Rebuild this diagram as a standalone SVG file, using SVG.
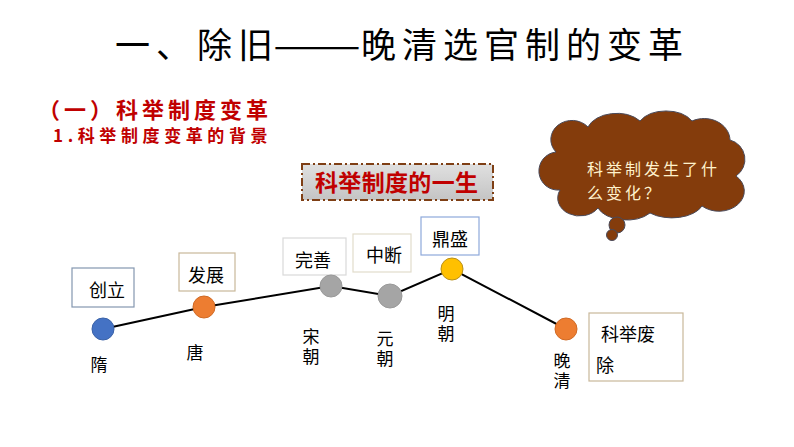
<svg xmlns="http://www.w3.org/2000/svg" width="794" height="447" viewBox="0 0 794 447">
<defs>
<style>
.cjk{font-family:"Noto Sans CJK SC","Noto Sans",sans-serif}
.lbl{font-size:18px;fill:#000}
.dyn{font-size:17px;fill:#000}
.vert{writing-mode:vertical-rl;letter-spacing:3px}
.red{fill:#c00000;font-weight:bold}
.box{fill:#fff;stroke-width:1.2}
.edge{stroke:#000;stroke-width:2;fill:none}
</style>
<linearGradient id="gbox" x1="0" y1="0" x2="0" y2="1">
<stop offset="0" stop-color="#e0e0e0"/>
<stop offset="1" stop-color="#c4c4c4"/>
</linearGradient>
</defs>
<rect width="794" height="447" fill="#fff"/>

<g id="title">
<text class="cjk" y="58" font-size="35" fill="#000" x="115 156 197 238">一、除旧</text>
<text class="cjk" y="58" font-size="35" fill="#000" transform="translate(273,0) scale(1.5,1)">——</text>
<text class="cjk" y="58" font-size="35" fill="#000" x="361 402 443 484 525 566 607 648">晚清选官制的变革</text>
</g>
<g id="heading">
<text class="cjk red" x="38" y="118" font-size="22" letter-spacing="4">（一）科举制度变革</text>
<text class="cjk red" x="53" y="142" font-size="17" letter-spacing="4.6">1.科举制度变革的背景</text>
</g>
<g id="life-box">
<rect x="302" y="164" width="191" height="36" fill="url(#gbox)" stroke="#7f3f15" stroke-width="2" stroke-dasharray="8,3,2,3"/>
<text class="cjk" x="315" y="191" font-size="23" font-weight="bold" fill="#c00000" textLength="163" lengthAdjust="spacing">科举制度的一生</text>
</g>
<g id="cloud">
<path d="M556 152 A20 18 0 0 1 588 127 A30 20 0 0 1 640 121 A30 20 0 0 1 692 121 A26 22 0 0 1 730 140 A20 20 0 0 1 736 176 A25 20 0 0 1 702 206 A32 18 0 0 1 650 213 A30 18 0 0 1 598 208 A22 18 0 0 1 560 190 A16 16 0 0 1 556 152 Z" fill="#843c0c" stroke="#4a4a5a" stroke-width="1"/>
<circle cx="617" cy="225" r="8" fill="#843c0c" stroke="#4a4a5a" stroke-width="1"/>
<circle cx="612" cy="235" r="5.5" fill="#843c0c" stroke="#4a4a5a" stroke-width="1"/>
<text class="cjk" font-size="16" fill="#fff2cc" letter-spacing="3"><tspan x="587" y="175">科举制发生了什</tspan><tspan x="587" y="199">么变化？</tspan></text>
</g>

<g id="connectors">
<polyline class="edge" points="103,329 204,307 331,286 390,296 452,269 566,329"/>
</g>

<g id="node-sui">
<rect class="box" x="72" y="268" width="62" height="39" stroke="#8497b0"/>
<text class="cjk lbl" x="89" y="297">创立</text>
<circle cx="103" cy="329" r="11" fill="#4472c4" stroke="#3a62a8" stroke-width="1"/>
<text class="cjk dyn" x="99" y="371" text-anchor="middle">隋</text>
</g>
<g id="node-tang">
<rect class="box" x="179" y="253" width="56" height="38" stroke="#c9b89a"/>
<text class="cjk lbl" x="188" y="282">发展</text>
<circle cx="204" cy="307" r="11" fill="#ed7d31" stroke="#d06a25" stroke-width="1"/>
<text class="cjk dyn" x="195" y="359" text-anchor="middle">唐</text>
</g>
<g id="node-song">
<rect class="box" x="283" y="238" width="63" height="37" stroke="#d9d9d9"/>
<text class="cjk lbl" x="295" y="267">完善</text>
<circle cx="331" cy="286" r="11" fill="#a5a5a5" stroke="#999" stroke-width="1"/>
<text class="cjk dyn vert" x="311" y="328">宋朝</text>
</g>
<g id="node-yuan">
<rect class="box" x="353" y="234" width="58" height="38" stroke="#e2dccb"/>
<text class="cjk lbl" x="366" y="262">中断</text>
<circle cx="390" cy="296" r="12" fill="#a5a5a5" stroke="#999" stroke-width="1"/>
<text class="cjk dyn vert" x="385" y="330">元朝</text>
</g>
<g id="node-ming">
<rect class="box" x="421" y="217" width="58" height="38" stroke="#8ea9db"/>
<text class="cjk lbl" x="432" y="246">鼎盛</text>
<circle cx="452" cy="269" r="11" fill="#ffc000" stroke="#b8901a" stroke-width="1"/>
<text class="cjk dyn vert" x="446" y="305">明朝</text>
</g>
<g id="node-wanqing">
<rect class="box" x="589" y="313" width="94" height="68" stroke="#c9b89a"/>
<text class="cjk lbl" x="601" y="341">科举废</text>
<text class="cjk lbl" x="596" y="372">除</text>
<circle cx="566" cy="329" r="11" fill="#ed7d31" stroke="#d06a25" stroke-width="1"/>
<text class="cjk dyn vert" x="562" y="352">晚清</text>
</g>
</svg>
